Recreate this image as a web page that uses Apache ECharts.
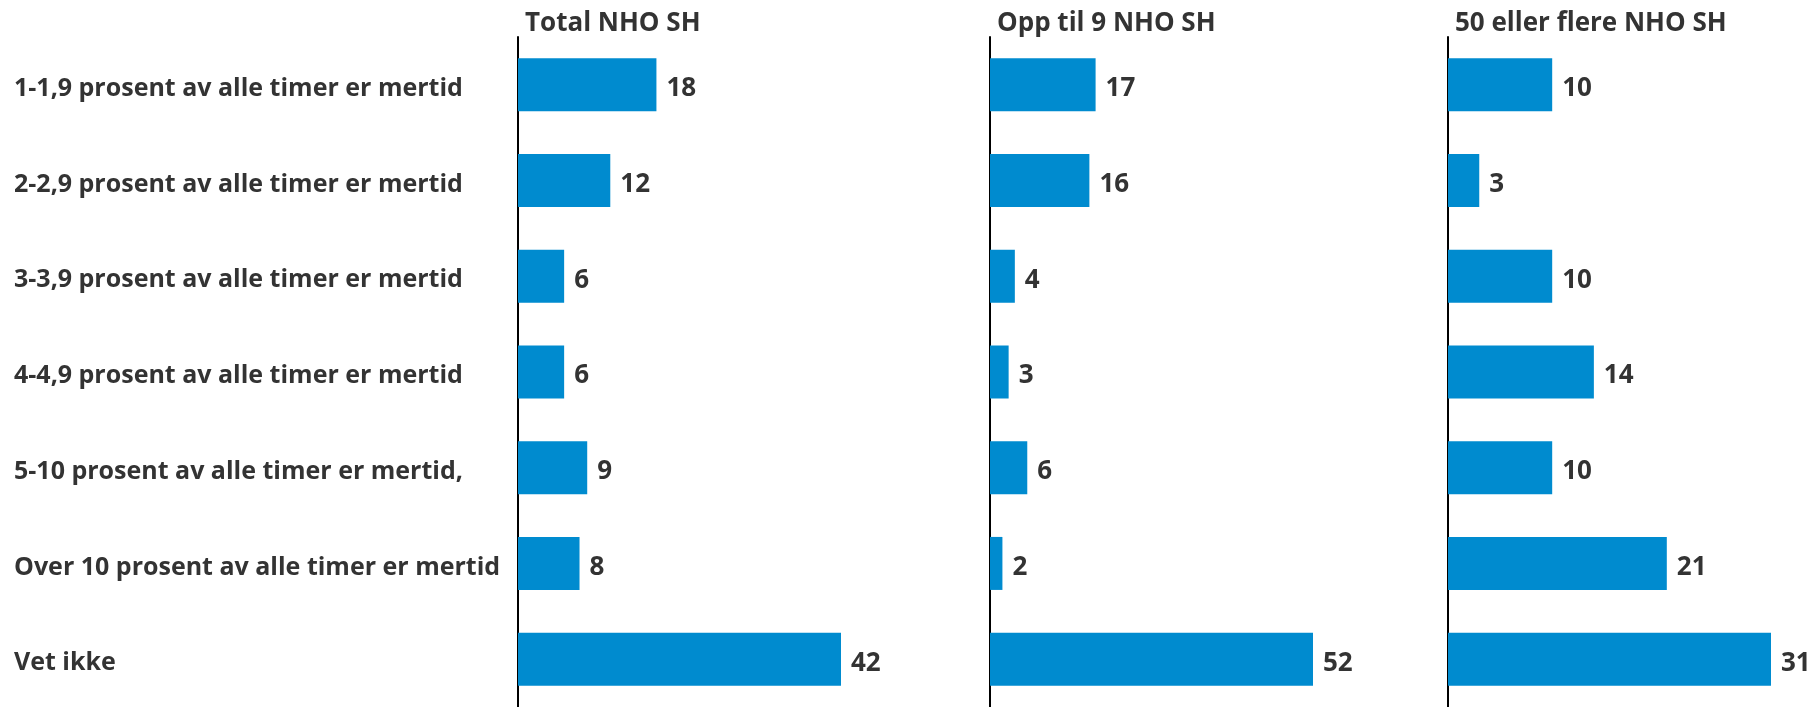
<!DOCTYPE html>
<html>
<head>
<meta charset="utf-8">
<script src="https://cdn.jsdelivr.net/npm/echarts@6/dist/echarts.min.js"></script>
<style>
  html, body { margin: 0; padding: 0; background: #fff; }
  #chart { width: 1811px; height: 707px; }
</style>
</head>
<body>
<div id="chart"></div>
<script>
const categories = [
  '1-1,9 prosent av alle timer er mertid',
  '2-2,9 prosent av alle timer er mertid',
  '3-3,9 prosent av alle timer er mertid',
  '4-4,9 prosent av alle timer er mertid',
  '5-10 prosent av alle timer er mertid,',
  'Over 10 prosent av alle timer er mertid',
  'Vet ikke'
];
const panelTitles = ['Total NHO SH', 'Opp til 9 NHO SH', '50 eller flere NHO SH'];
const totalValues = [18, 12, 6, 6, 9, 8, 42];
const smallValues = [17, 16, 4, 3, 6, 2, 52];
const largeValues = [10, 3, 10, 14, 10, 21, 31];

(function(){
  const el = document.getElementById('chart');
  const chart = echarts.init(el);
  const font = '"Open Sans", "Noto Sans", sans-serif';
  const textColor = '#333333';
  const lefts = [518, 990, 1448];
  const seriesData = [totalValues, smallValues, largeValues];

  const grids = lefts.map(l => ({ left: l, top: 37, width: 323, height: 672 }));
  const xAxes = lefts.map((l, i) => ({
    type: 'value', gridIndex: i, min: 0, max: 'dataMax', show: false
  }));
  const yAxes = lefts.map((l, i) => ({
    type: 'category', gridIndex: i, data: categories, inverse: true,
    axisLine: { show: true, lineStyle: { color: '#000', width: 2 } },
    axisTick: { show: false },
    axisLabel: i === 0 ? {
      show: true, align: 'left', margin: 504,
      verticalAlign: 'top', lineHeight: 8,
      color: textColor, fontFamily: font, fontWeight: 'bold', fontSize: 25
    } : { show: false }
  }));
  const titles = panelTitles.map((t, i) => ({
    text: t, left: lefts[i] + 2, top: 6,
    textStyle: { color: textColor, fontFamily: font, fontWeight: 'bold', fontSize: 26 }
  }));
  const series = seriesData.map((d, i) => ({
    type: 'bar', xAxisIndex: i, yAxisIndex: i, data: d,
    barWidth: 53,
    itemStyle: { color: '#008BCF' },
    label: {
      show: true, position: 'right', distance: 10, offset: [0, 4],
      color: textColor, fontFamily: font, fontWeight: 'bold', fontSize: 26
    }
  }));

  chart.setOption({
    backgroundColor: '#fff',
    animation: false,
    title: titles,
    grid: grids,
    xAxis: xAxes,
    yAxis: yAxes,
    series: series
  });
})();
</script>
</body>
</html>
